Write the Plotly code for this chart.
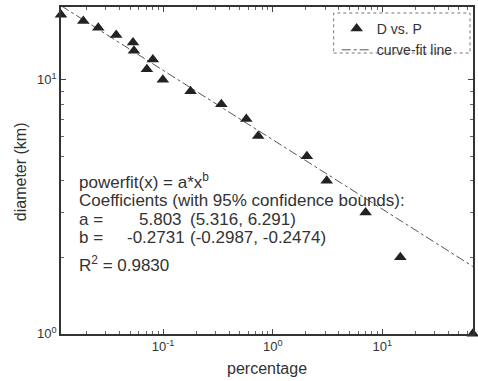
import numpy as np
import plotly.graph_objects as go

# ---- data ----
percentage = [0.0117, 0.0187, 0.0256, 0.0373, 0.0531, 0.0542, 0.0806, 0.0711, 0.0994,
              0.178, 0.340, 0.574, 0.737, 2.05, 3.11, 7.04, 14.6, 67.0]
diameter = [18, 17, 16, 15, 14, 13, 12, 11, 10, 9, 8, 7, 6, 5, 4, 3, 2, 1]
coef_a = 5.803
coef_b = -0.2731
fit_x = [0.0117, 67.0]
fit_y = [coef_a * x ** coef_b for x in fit_x]

x_tickvals = [0.1, 1, 10]
x_ticktext = ["10<sup>-1</sup>", "10<sup>0</sup>", "10<sup>1</sup>"]
y_tickvals = [1, 10]
y_ticktext = ["10<sup>0</sup>", "10<sup>1</sup>"]

W, H = 478, 381
L, R, T, B = 61, 3, 7, 47
PW, PH = W - L - R, H - T - B


def px(x):
    return (x - L) / PW


def py(y):
    return 1 - (y - T) / PH


FONT = "Liberation Sans, Arial, sans-serif"
INK = "#333"

fig = go.Figure()
fig.add_trace(go.Scatter(
    x=fit_x, y=fit_y, mode="lines", name="curve-fit line",
    line=dict(color="#555", width=1, dash="dashdot")))
fig.add_trace(go.Scatter(
    x=percentage, y=diameter, mode="markers", name="D vs. P",
    marker=dict(symbol="triangle-up", size=11, color="#222"), cliponaxis=False))

axis_common = dict(
    type="log", showgrid=False, zeroline=False, showline=True, linecolor=INK, linewidth=1.5,
    mirror="ticks", ticks="inside", ticklen=5, tickcolor="#444",
    tickfont=dict(family=FONT, size=13, color=INK),
    minor=dict(ticks="inside", ticklen=3, tickcolor="#666", dtick="D1", showgrid=False),
)
fig.update_xaxes(range=[np.log10(0.0117), np.log10(67.2)],
                 tickmode="array", tickvals=x_tickvals, ticktext=x_ticktext,
                 **axis_common)
fig.update_yaxes(range=[-0.001, 1.286],
                 tickmode="array", tickvals=y_tickvals, ticktext=y_ticktext,
                 **axis_common)

# axis titles
fig.add_annotation(text="percentage", x=px(268), y=py(368), xref="paper", yref="paper",
                   xanchor="center", yanchor="middle", showarrow=False,
                   font=dict(family=FONT, size=16, color=INK))
fig.add_annotation(text="diameter (km)", x=px(20), y=py(172), xref="paper", yref="paper",
                   xanchor="center", yanchor="middle", showarrow=False, textangle=-90,
                   font=dict(family=FONT, size=16, color=INK))

ann_font = dict(family=FONT, size=17, color=INK)
texts = [
    ("powerfit(x) = a*x<sup>b</sup>", 78, 181),
    ("Coefficients (with 95% confidence bounds):", 78, 200),
    ("a =", 78, 219),
    ("5.803", 138, 219),
    ("(5.316, 6.291)", 190, 219),
    ("b =", 78, 237),
    ("-0.2731", 126, 237),
    ("(-0.2987, -0.2474)", 190, 237),
    ("R<sup>2</sup> = 0.9830", 78, 264),
]
for t, x, y in texts:
    fig.add_annotation(text=t, x=px(x), y=py(y), xref="paper", yref="paper",
                       xanchor="left", yanchor="middle", showarrow=False, font=ann_font,
                       borderpad=0)

# legend box (dotted border)
fig.add_shape(type="rect", xref="paper", yref="paper",
              x0=px(335), x1=px(472), y0=py(53), y1=py(13),
              line=dict(color="#777", width=1, dash="dot"), fillcolor="white", layer="below")

fig.update_layout(
    width=W, height=H, margin=dict(l=L, r=R, t=T, b=B),
    paper_bgcolor="white", plot_bgcolor="white",
    font=dict(family=FONT, color=INK),
    showlegend=True,
    legend=dict(x=px(338), y=py(13), xanchor="left", yanchor="top",
                bgcolor="rgba(0,0,0,0)", borderwidth=0, traceorder="reversed",
                font=dict(family=FONT, size=14, color=INK), tracegroupgap=0,
                itemwidth=30),
)
fig.write_html("out.html", config={"displayModeBar": False},
               post_script="document.body.style.margin='0';document.body.style.overflow='hidden';")
